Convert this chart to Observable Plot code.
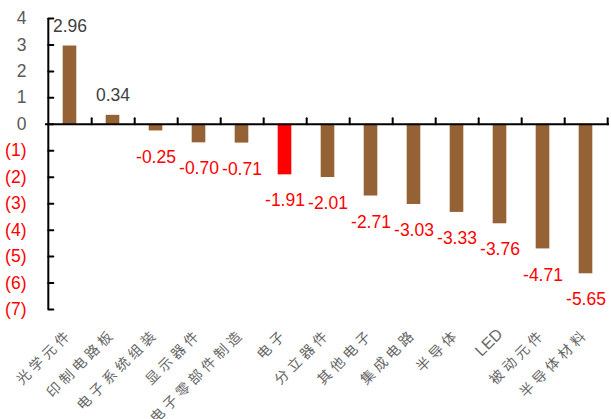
<!DOCTYPE html>
<html><head><meta charset="utf-8">
<script src="https://cdn.jsdelivr.net/npm/d3@7"></script>
<script src="https://cdn.jsdelivr.net/npm/@observablehq/plot@0.6"></script>
<style>
body{margin:0;background:#fff;}
#chart svg [aria-label="x-axis tick label"] text{letter-spacing:4px;}
#chart svg [aria-label="x-axis tick label"] text.latin{letter-spacing:0;font-size:16px;}
</style></head><body><div id="chart"></div>
<script>
const categories = ["光学元件","印制电路板","电子系统组装","显示器件","电子零部件制造","电子","分立器件","其他电子","集成电路","半导体","LED","被动元件","半导体材料"];
const values = [2.96,0.34,-0.25,-0.70,-0.71,-1.91,-2.01,-2.71,-3.03,-3.33,-3.76,-4.71,-5.65];
const highlight = "电子";
const yTicks = [4,3,2,1,0,-1,-2,-3,-4,-5,-6,-7];

const data = categories.map((name, i) => ({name, value: values[i]}));
const W = 611, H = 419, mL = 45, mR = 2, mT = 18, mB = 110;
const bw = (W - mL - mR) / categories.length;
const font = "'Liberation Sans', Arial, sans-serif";
const brown = "#946235";
const upShape = {draw(ctx, l) { ctx.moveTo(0, 0); ctx.lineTo(0, -l); }};

const chart = Plot.plot({
  width: W, height: H,
  marginLeft: mL, marginRight: mR, marginTop: mT, marginBottom: mB,
  style: {fontFamily: font, background: "#fff"},
  x: {type: "band", domain: categories, padding: 0, axis: null, label: null},
  y: {domain: [-7, 4], axis: null, label: null},
  marks: [
    Plot.barY(data.filter(d => d.name !== highlight), {x: "name", y: "value", fill: brown, insetLeft: (bw - 14) / 2, insetRight: (bw - 14) / 2}),
    Plot.barY(data.filter(d => d.name === highlight), {x: "name", y: "value", fill: "#FF0000", insetLeft: (bw - 14) / 2, insetRight: (bw - 14) / 2}),
    Plot.ruleY([0], {stroke: "#000", strokeWidth: 2}),
    Plot.ruleX([categories[0]], {dx: -bw / 2, y1: -7, y2: 4, stroke: "#000", strokeWidth: 2}),
    Plot.vector(categories, {x: d => d, y: () => 0, dx: bw / 2, length: 6, rotate: 0, anchor: "start", shape: upShape, stroke: "#000", strokeWidth: 2}),
    Plot.vector(yTicks, {x: () => categories[0], y: d => d, dx: -bw / 2, length: 5, rotate: 90, anchor: "start", shape: upShape, stroke: "#000", strokeWidth: 2}),
    Plot.axisY(yTicks.filter(d => d >= 0), {label: null, tickSize: 0, tickPadding: 19, fontSize: 17.5, fill: "#595959", fontFamily: font, tickFormat: d => String(d)}),
    Plot.axisY(yTicks.filter(d => d < 0), {label: null, tickSize: 0, tickPadding: 19, fontSize: 17.5, fill: "#FF0000", fontFamily: font, tickFormat: d => `(${-d})`}),
    Plot.text(data.filter(d => d.value >= 0), {x: "name", y: "value", text: d => d.value.toFixed(2), dy: -20, fontSize: 17.5, fill: "#404040", fontFamily: font}),
    Plot.text(data.filter(d => d.value < 0), {x: "name", y: "value", text: d => d.value.toFixed(2), dy: 26, fontSize: 17.5, fill: "#FF0000", fontFamily: font}),
    Plot.axisX({anchor: "bottom", label: null, tickSize: 0, tickPadding: 22, tickRotate: -45, fontSize: 14, fill: "#666", fontFamily: "'Liberation Sans', 'Noto Sans CJK SC', sans-serif"})
  ]
});
chart.querySelectorAll('[aria-label="x-axis tick label"] text').forEach(t => {
  if (/^[A-Za-z]+$/.test(t.textContent)) t.classList.add("latin");
});
document.getElementById("chart").appendChild(chart);
</script></body></html>
